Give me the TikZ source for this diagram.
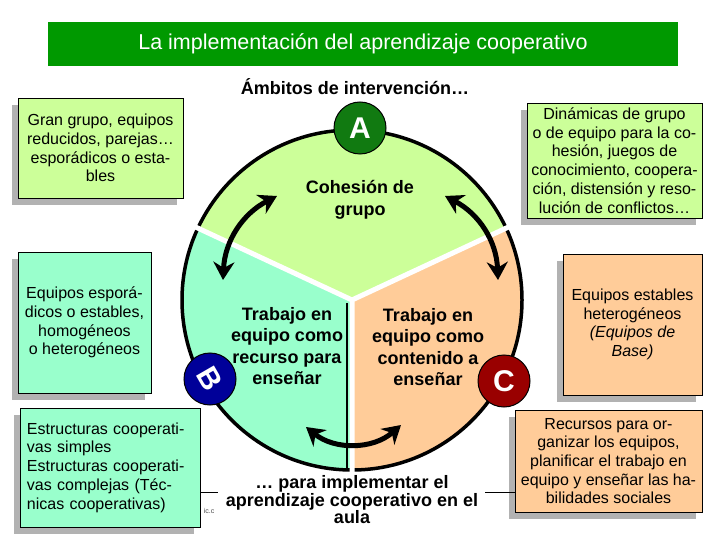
\documentclass[tikz,border=0pt]{standalone}
\usepackage{fontspec}
\setmainfont{Liberation Sans}
\usetikzlibrary{arrows.meta,shadows}
\definecolor{titulo}{HTML}{009900}
\definecolor{verdeC}{HTML}{CCFF99}
\definecolor{aguaC}{HTML}{99FFCC}
\definecolor{salmonC}{HTML}{FFCC99}
\definecolor{verdeA}{HTML}{117A11}
\definecolor{azulB}{HTML}{000099}
\definecolor{rojoC}{HTML}{990000}
\definecolor{sombra}{HTML}{B2B2B2}
\begin{document}
\begin{tikzpicture}[x=1pt,y=-1pt,line width=0.8pt,draw=black]
	\tikzstyle{caja}=[rectangle,draw=black,line width=0.9pt,align=center,inner sep=4pt,font=\fontsize{16}{18.7}\selectfont,drop shadow={shadow xshift=-6pt,shadow yshift=-7pt,opacity=1,fill=sombra}]
	\tikzstyle{AC}=[fill=verdeC]  % AC = ambito A, cohesion
	\tikzstyle{BR}=[fill=aguaC]   % BR = ambito B, recurso
	\tikzstyle{CC}=[fill=salmonC] % CC = ambito C, contenido
	\tikzstyle{letra}=[circle,draw=black,line width=1pt,minimum size=52pt,inner sep=0pt,text=white,font=\bfseries\fontsize{30}{30}\selectfont]
	\tikzstyle{sector}=[align=center,font=\bfseries\fontsize{18}{21.5}\selectfont]
	\tikzstyle{flecha}=[{Stealth[length=18pt,width=21pt]}-{Stealth[length=18pt,width=21pt]},line width=5pt,black]
	\useasboundingbox (0,0) rectangle (720,540);
	% titulo
	\node(tit)[fill=titulo,minimum width=630pt,minimum height=44pt,inner sep=0pt,text=white,font=\fontsize{21.5}{24}\selectfont] at (363,44) {La implementación del aprendizaje cooperativo};
	\node(amb)[font=\bfseries\fontsize{18}{21}\selectfont] at (355,87) {Ámbitos de intervención…};
	% circulo de tres sectores
	\coordinate(O) at (352,300);
	\fill[AC] (O) -- ++(-25:170) arc[start angle=-25,end angle=-155,radius=170] -- cycle;
	\fill[BR] (O) -- ++(-155:170) arc[start angle=-155,end angle=-270,radius=170] -- cycle;
	\fill[CC] (O) -- ++(90:170) arc[start angle=90,end angle=-25,radius=170] -- cycle;
	\draw[line width=3.5pt] (O) circle[radius=170];
	\draw[white,line width=5pt] (O) -- ++(-25:176) (O) -- ++(-155:176) (O) -- ++(90:176);
	\draw[line width=1.5pt] (347,303) -- (347,468);
	% letras
	\node(A)[letra,fill=verdeA] at (360,128) {A};
	\node(B)[letra,fill=azulB] at (210,379) {\rotatebox{-60}{B}};
	\node(C)[letra,fill=rojoC] at (504,381) {C};
	% textos de los sectores
	\node(coh)[sector] at (360,200) {Cohesión de\\grupo};
	\node(rec)[sector] at (287,346) {Trabajo en\\equipo como\\recurso para\\enseñar};
	\node(con)[sector] at (428,347) {Trabajo en\\equipo como\\contenido a\\enseñar};
	\node(pie)[align=center,font=\bfseries\fontsize{18}{17.5}\selectfont] at (352,500) {… para implementar el\\aprendizaje cooperativo en el\\aula};
	% flechas
	\coordinate(f1) at (223,280);
	\coordinate(f2) at (277,196);
	\coordinate(f3) at (445,196);
	\coordinate(f4) at (498,280);
	\coordinate(f5) at (306,427);
	\coordinate(f6) at (401,425);
	\draw(f1)to[bend left=30](f2)[flecha];
	\draw(f3)to[bend left=30](f4)[flecha];
	\draw(f5)to[bend right=40](f6)[flecha];
	% cajas
	\node(c1)[caja,AC,minimum width=165pt,minimum height=100pt] at (100.5,148) {Gran grupo, equipos\\reducidos, parejas…\\esporádicos o esta-\\bles};
	\node(c2)[caja,AC,minimum width=175pt,minimum height=115pt] at (614.5,160.5) {Dinámicas de grupo\\o de equipo para la co-\\hesión, juegos de\\conocimiento, coopera-\\ción, distensión y reso-\\lución de conflictos…};
	\node(c3)[caja,BR,minimum width=133pt,minimum height=141pt] at (84.5,322.5) {Equipos esporá-\\dicos o estables,\\homogéneos\\o heterogéneos};
	\node(c4)[caja,BR,minimum width=180pt,minimum height=119pt,align=left,text width=166pt] at (110,467.5) {Estructuras cooperati-\\vas simples\\Estructuras cooperati-\\vas complejas (Téc-\\nicas cooperativas)};
	\node(c5)[caja,CC,minimum width=139pt,minimum height=141pt] at (632.5,324.5) {Equipos estables\\heterogéneos\\\textit{(Equipos de}\\\textit{Base)}};
	\node(c6)[caja,CC,minimum width=187pt,minimum height=102pt] at (608.5,461) {Recursos para or-\\ganizar los equipos,\\planificar el trabajo en\\equipo y enseñar las ha-\\bilidades sociales};
	% lineas sueltas
	\coordinate(l1) at (218,492);
	\coordinate(l2) at (485,492);
	\draw(c4.east|-l1)--(l1)[line width=0.7pt];
	\draw(l2)--(c6.west|-l2)[line width=0.7pt];
	\node(ic)[font=\fontsize{7}{8}\selectfont,text=black!70,inner sep=0pt] at (209,511) {ic.c};
\end{tikzpicture}
\end{document}
